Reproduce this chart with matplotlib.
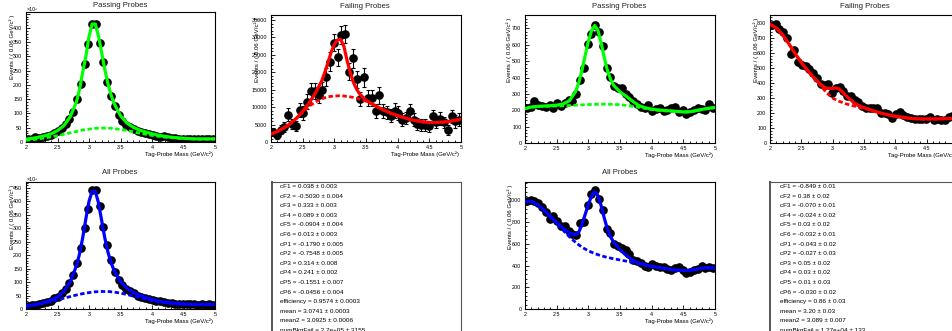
import matplotlib
matplotlib.use("Agg")
import matplotlib.pyplot as plt
from matplotlib.ticker import MultipleLocator, FuncFormatter

plt.rcParams['font.family'] = ['Liberation Sans', 'DejaVu Sans']

# ---------------- data ----------------
MASS_BINS = [2.03, 2.09, 2.15, 2.21, 2.27, 2.33, 2.39, 2.45, 2.51, 2.57,
             2.63, 2.69, 2.75, 2.81, 2.87, 2.93, 2.99, 3.05, 3.11, 3.17,
             3.23, 3.29, 3.35, 3.41, 3.47, 3.53, 3.59, 3.65, 3.71, 3.77,
             3.83, 3.89, 3.95, 4.01, 4.07, 4.13, 4.19, 4.25, 4.31, 4.37,
             4.43, 4.49, 4.55, 4.61, 4.67, 4.73, 4.79, 4.85, 4.91, 4.97]

FIT_X = [2.0, 2.1, 2.2, 2.3, 2.4, 2.5, 2.6, 2.7, 2.8, 2.85, 2.9, 2.95, 3.0, 3.05,
         3.1, 3.15, 3.2, 3.25, 3.3, 3.35, 3.4, 3.5, 3.6, 3.7, 3.8, 3.9, 4.0,
         4.1, 4.2, 4.3, 4.4, 4.5, 4.6, 4.7, 4.8, 4.9, 5.0]
BKG_X = [2.0, 2.1, 2.2, 2.3, 2.4, 2.5, 2.6, 2.7, 2.8, 2.9, 3.0, 3.1, 3.2, 3.3,
         3.4, 3.5, 3.6, 3.7, 3.8, 3.9, 4.0, 4.1, 4.2, 4.3, 4.4, 4.5, 4.6, 4.7,
         4.8, 4.9, 5.0]

# Left pair: passing (x10^3), failing, all (x10^3)
pass1_counts = [10, 12, 16, 14, 18, 22, 26, 32, 40, 50,
                62, 80, 105, 150, 205, 275, 345, 415, 413, 348,
                280, 210, 160, 125, 95, 75, 60, 52, 45, 40,
                35, 30, 28, 24, 20, 18, 20, 16, 15, 14,
                12, 11, 12, 12, 10, 10, 10, 9, 10, 11]
pass1_fit = [10, 13, 17, 22, 29, 40, 57, 88, 140, 185, 245, 300, 370, 414,
             414, 372, 315, 255, 205, 165, 135, 92, 67, 52, 42, 35, 29,
             24, 20, 17, 15, 13, 12, 11, 11, 11, 11]
pass1_bkg = [6, 8, 11, 14, 18, 22, 27, 32, 37, 42, 45, 48, 49, 49, 47, 44, 40,
             36, 31, 27, 23, 20, 17, 15, 13, 12, 11, 10, 10, 10, 11]

fail1_counts = [2800, 2100, 3500, 4200, 7800, 5200, 4500, 9200, 8300, 11600,
                14500, 14500, 13500, 15000, 18600, 23100, 28500, 24300, 30700, 30900,
                20200, 24000, 18000, 12300, 18600, 12600, 12600, 9000, 13400, 9000,
                8500, 7600, 9000, 8300, 6400, 6900, 8800, 6400, 5200, 5000,
                4800, 4500, 7400, 5700, 6700, 5600, 3500, 7400, 5900, 6400]
fail1_errors = [1200, 1100, 1300, 1400, 1900, 1500, 1400, 2000, 1900, 2100,
                2300, 2300, 2200, 2300, 2500, 2600, 2500, 2500, 2600, 2600,
                2400, 2700, 2500, 2000, 2700, 2200, 2200, 2000, 2500, 2000,
                1900, 1900, 2100, 2000, 1800, 1800, 2000, 1800, 1700, 1700,
                1700, 1600, 1900, 1800, 1800, 1700, 1500, 1900, 1800, 1800]
fail1_fit = [2300, 3000, 4000, 5200, 6800, 8800, 11200, 14000, 17500, 20000,
             22800, 25800, 28000, 29300, 29500, 27500, 23500, 20000, 17200,
             15200, 13800, 12000, 10900, 9900, 9000, 8200, 7600, 7000, 6500,
             6100, 5800, 5600, 5600, 5700, 5900, 6200, 6600]
fail1_bkg = [2300, 3000, 4000, 5200, 6700, 8500, 10200, 11500, 12400, 13000,
             13200, 13300, 13100, 12800, 12300, 11700, 10800, 9850, 8950, 8150,
             7550, 6950, 6450, 6050, 5750, 5550, 5550, 5650, 5850, 6150, 6550]

all1_counts = [12, 14, 15, 18, 22, 25, 30, 40, 45, 58,
               75, 95, 125, 170, 225, 300, 373, 442, 442, 382,
               305, 237, 182, 138, 107, 90, 75, 68, 60, 50,
               45, 40, 38, 32, 28, 28, 25, 22, 22, 20,
               18, 18, 20, 18, 17, 16, 18, 16, 17, 16]
all1_fit = [12, 15, 19, 25, 33, 45, 65, 100, 160, 205, 265, 335, 400, 438,
            438, 395, 330, 265, 212, 172, 142, 102, 78, 62, 51, 43, 36,
            30, 26, 23, 21, 19, 18, 17, 17, 17, 17]
all1_bkg = [10, 13, 17, 22, 28, 34, 40, 46, 52, 57, 61, 64, 65, 65, 63, 59, 54,
            48, 42, 36, 31, 27, 23, 20, 18, 17, 16, 16, 16, 16, 17]

# Right pair
pass2_counts = [215, 220, 255, 232, 225, 218, 230, 215, 245, 225,
                245, 260, 255, 300, 385, 460, 605, 665, 720, 680,
                590, 460, 405, 350, 335, 335, 300, 280, 255, 240,
                220, 215, 230, 195, 210, 215, 195, 200, 215, 220,
                190, 200, 180, 190, 200, 215, 205, 200, 240, 215]
pass2_fit = [210, 220, 224, 226, 228, 231, 238, 258, 315, 370, 445, 535, 620,
             685, 718, 690, 615, 525, 445, 390, 352, 312, 285, 255, 228, 215,
             207, 202, 199, 196, 193, 190, 191, 198, 206, 212, 217]
pass2_bkg = [210, 218, 222, 224, 225, 226, 227, 229, 231, 233, 235, 236, 237,
             237, 236, 234, 230, 224, 218, 211, 205, 200, 197, 195, 192, 189,
             190, 197, 205, 211, 216]

fail2_counts = [785, 790, 760, 735, 700, 590, 615, 540, 520, 515,
                490, 465, 430, 390, 385, 395, 335, 365, 370, 345,
                315, 315, 285, 270, 245, 235, 230, 235, 230, 200,
                200, 190, 165, 190, 205, 185, 175, 165, 160, 160,
                160, 160, 170, 150, 160, 155, 150, 175, 180, 160]
fail2_fit = [790, 765, 720, 660, 595, 535, 482, 435, 393, 375, 365, 362, 363,
             366, 360, 342, 320, 300, 283, 265, 252, 236, 221, 207, 196, 186,
             178, 172, 166, 162, 160, 160, 160, 161, 162, 163, 164]
fail2_bkg = [790, 765, 720, 660, 595, 535, 480, 430, 385, 335, 298, 278, 262,
             250, 240, 230, 219, 206, 195, 185, 177, 171, 165, 161, 159, 159,
             159, 160, 161, 162, 163]

all2_counts = [990, 1000, 995, 975, 940, 895, 830, 855, 810, 760,
               760, 720, 690, 680, 790, 800, 960, 1060, 1090, 1010,
               910, 740, 700, 600, 580, 560, 545, 510, 450, 440,
               420, 400, 390, 410, 400, 390, 385, 365, 355, 380,
               385, 360, 330, 340, 355, 365, 395, 380, 385, 375]
all2_fit = [990, 990, 960, 910, 852, 795, 742, 700, 682, 708, 780, 870, 960,
            1040, 1078, 1045, 955, 840, 738, 665, 615, 545, 492, 450, 422, 405,
            393, 383, 374, 364, 356, 354, 356, 364, 376, 381, 376]
all2_bkg = [990, 990, 958, 906, 846, 786, 725, 665, 612, 568, 535, 510, 490,
            474, 462, 451, 440, 429, 416, 402, 391, 382, 373, 363, 356, 354,
            356, 364, 376, 381, 376]

params_left = ["cF1 = 0.038 \u00b1 0.003", "cF2 = -0.5030 \u00b1 0.004",
               "cF3 = 0.333 \u00b1 0.003", "cF4 = 0.089 \u00b1 0.003",
               "cF5 = -0.0904 \u00b1 0.004", "cF6 = 0.013 \u00b1 0.003",
               "cP1 = -0.1790 \u00b1 0.005", "cP2 = -0.7548 \u00b1 0.005",
               "cP3 = 0.314 \u00b1 0.008", "cP4 = 0.241 \u00b1 0.002",
               "cP5 = -0.1551 \u00b1 0.007", "cP6 = -0.0456 \u00b1 0.004",
               "efficiency = 0.9574 \u00b1 0.0003", "mean = 3.0741 \u00b1 0.0003",
               "mean2 = 3.0925 \u00b1 0.0006", "numBkgFail = 2.7e+05 \u00b1 3155"]
params_right = ["cF1 = -0.849 \u00b1 0.01", "cF2 = 0.38 \u00b1 0.02",
                "cF3 = -0.070 \u00b1 0.01", "cF4 = -0.024 \u00b1 0.02",
                "cF5 = 0.03 \u00b1 0.02", "cF6 = -0.032 \u00b1 0.01",
                "cP1 = -0.043 \u00b1 0.02", "cP2 = -0.027 \u00b1 0.03",
                "cP3 = 0.05 \u00b1 0.02", "cP4 = 0.03 \u00b1 0.02",
                "cP5 = 0.01 \u00b1 0.03", "cP6 = -0.030 \u00b1 0.02",
                "efficiency = 0.86 \u00b1 0.03", "mean = 3.20 \u00b1 0.03",
                "mean2 = 3.089 \u00b1 0.007", "numBkgFail = 1.27e+04 \u00b1 133"]

# ---------------- layout ----------------
W, H = 953, 331
fig = plt.figure(figsize=(W / 100, H / 100), dpi=100)
fig.patch.set_facecolor('white')

GREEN, RED, BLUE = '#00ff00', '#ff0000', '#0000ff'
YLABEL = "Events / ( 0.06 GeV/c\u00b2 )"
XLABEL = "Tag-Probe Mass (GeV/c\u00b2)"


def px_axes(l, t, r, b):
    return fig.add_axes([l / W, 1 - b / H, (r - l) / W, (b - t) / H])


def ftext(x, y, s, **kw):
    fig.text(x / W, 1 - y / H, s, **kw)


def panel(box, title, title_xy, ymax, ymajor, counts, fit, bkg, color,
          ylab_x, errors=None, exp3=False, hide_top=None):
    l, t, r, b = box
    ax = px_axes(l, t, r, b)
    ax.set_xlim(2, 5)
    ax.set_ylim(0, ymax)
    if errors is not None:
        ax.errorbar(MASS_BINS, counts, yerr=errors, fmt='o', color='black',
                    ms=5.2, elinewidth=0.8, capsize=1.4, capthick=0.8, zorder=2)
    else:
        ax.plot(MASS_BINS, counts, 'o', color='black', ms=5.2, zorder=2)
    ax.plot(BKG_X, bkg, color=color, lw=2.0, ls=(0, (1.6, 0.9)), zorder=3)
    ax.plot(FIT_X, fit, color=color, lw=2.3, zorder=4)

    ax.xaxis.set_major_locator(MultipleLocator(0.5))
    ax.xaxis.set_minor_locator(MultipleLocator(0.1))
    ax.yaxis.set_major_locator(MultipleLocator(ymajor))
    ax.yaxis.set_minor_locator(MultipleLocator(ymajor / 5))
    ax.xaxis.set_major_formatter(FuncFormatter(lambda v, p: f"{v:g}"))
    if hide_top is not None:
        ax.yaxis.set_major_formatter(FuncFormatter(
            lambda v, p: "" if v >= hide_top else f"{v:g}"))
    else:
        ax.yaxis.set_major_formatter(FuncFormatter(lambda v, p: f"{v:g}"))
    ax.tick_params(which='both', direction='in', top=False, right=False,
                   labelsize=3.9, width=0.6, colors='black')
    ax.tick_params(which='major', length=3.2)
    ax.tick_params(which='minor', length=1.6)
    ax.tick_params(axis='x', pad=2.2)
    ax.tick_params(axis='y', pad=2.6)
    for s in ax.spines.values():
        s.set_linewidth(0.8)

    ftext(title_xy[0], title_xy[1], title, ha='center', va='center',
          fontsize=5.6, color='#222222')
    ftext(ylab_x, t + 2.5, YLABEL, rotation=90, ha='center', va='top',
          fontsize=4.4)
    ftext(r - 2, b + 12.5, XLABEL, ha='right', va='center', fontsize=4.3)
    if exp3:
        ftext(l + 1, t - 2.5, "\u00d710\u00b3", ha='left', va='center',
              fontsize=3.8)
    return ax


def param_box(box, lines, x0):
    l, t, r, b = box
    ax = px_axes(l, t, r, b)
    ax.set_xticks([])
    ax.set_yticks([])
    for s in ax.spines.values():
        s.set_linewidth(0.8)
        s.set_color('#555555')
    ax.spines['left'].set_linewidth(1.4)
    for i, line in enumerate(lines):
        ftext(x0, t + 4.5 + 9.6 * i, line, ha='left', va='center',
              fontsize=4.6)


panel((26, 12, 215, 142), "Passing Probes", (120, 5.5), 456, 50,
      pass1_counts, pass1_fit, pass1_bkg, GREEN, 12, exp3=True, hide_top=450)
panel((271, 15, 461, 142), "Failing Probes", (365, 6), 36450, 5000,
      fail1_counts, fail1_fit, fail1_bkg, RED, 257, errors=fail1_errors)
panel((525, 15, 715, 143), "Passing Probes", (619, 6), 782, 100,
      pass2_counts, pass2_fit, pass2_bkg, GREEN, 509)
panel((770, 15, 958, 143), "Failing Probes", (865, 6), 851, 100,
      fail2_counts, fail2_fit, fail2_bkg, RED, 756)
panel((26, 182, 215, 309), "All Probes", (120, 172), 472, 50,
      all1_counts, all1_fit, all1_bkg, BLUE, 12, exp3=True)
panel((525, 182, 715, 309), "All Probes", (620, 172), 1168, 200,
      all2_counts, all2_fit, all2_bkg, BLUE, 510)

param_box((272, 182, 461, 350), params_left, 280)
param_box((770, 182, 960, 350), params_right, 780)

fig.savefig("out.png", dpi=100, facecolor='white')
